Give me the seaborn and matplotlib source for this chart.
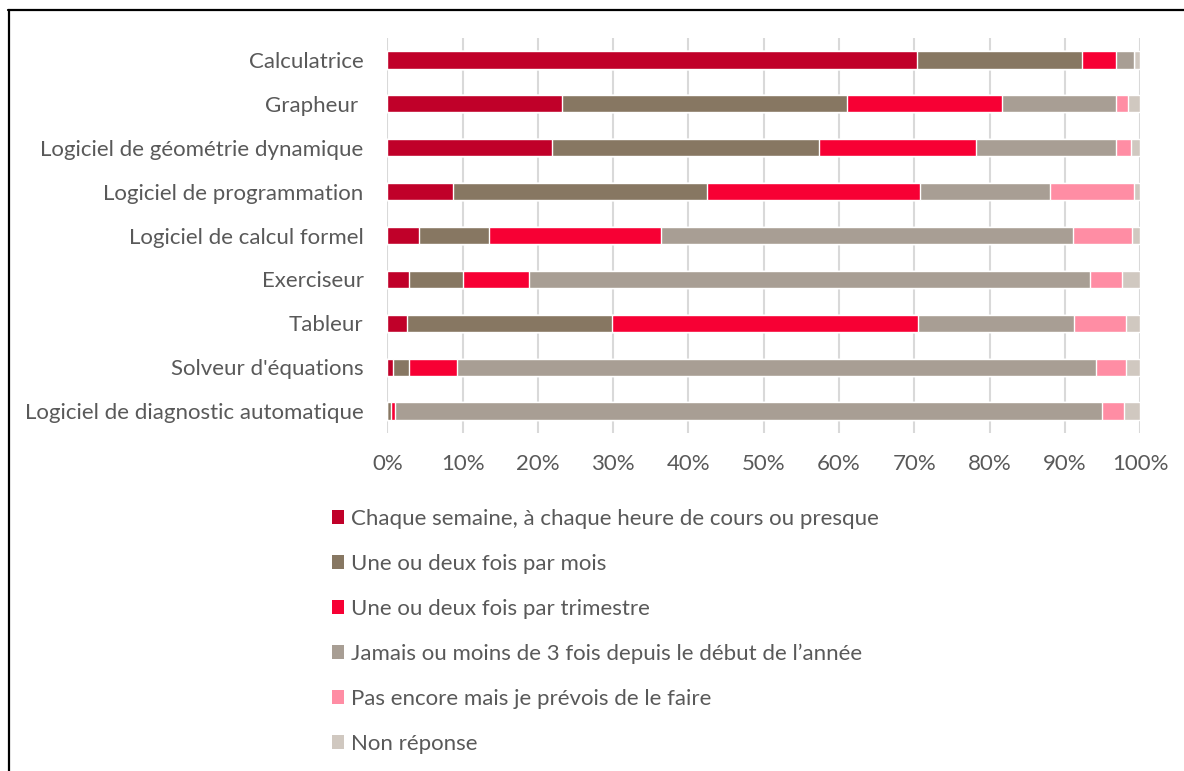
import pandas as pd
import matplotlib.pyplot as plt
import seaborn as sns
from matplotlib.patches import Patch
from matplotlib.lines import Line2D
from matplotlib.ticker import PercentFormatter

# outils (de haut en bas)
outils = [
    "Calculatrice",
    "Grapheur ",
    "Logiciel de géométrie dynamique",
    "Logiciel de programmation",
    "Logiciel de calcul formel",
    "Exerciseur",
    "Tableur",
    "Solveur d'équations",
    "Logiciel de diagnostic automatique",
]

frequences = [
    "Chaque semaine, à chaque heure de cours ou presque",
    "Une ou deux fois par mois",
    "Une ou deux fois par trimestre",
    "Jamais ou moins de 3 fois depuis le début de l’année",
    "Pas encore mais je prévois de le faire",
    "Non réponse",
]

# parts en %
chaque_semaine = [70.3, 23.2, 21.9, 8.7, 4.2, 2.9, 2.6, 0.8, 0.0]
par_mois = [22.0, 37.8, 35.4, 33.7, 9.3, 7.1, 27.3, 2.1, 0.5]
par_trimestre = [4.5, 20.6, 20.9, 28.3, 22.8, 8.8, 40.6, 6.3, 0.5]
jamais = [2.4, 15.2, 18.6, 17.3, 54.7, 74.5, 20.7, 84.9, 93.9]
pas_encore = [0.0, 1.6, 1.9, 11.2, 7.9, 4.3, 6.9, 4.0, 2.9]
non_reponse = [0.8, 1.6, 1.3, 0.8, 1.1, 2.4, 1.9, 1.9, 2.2]

couleurs = ["#C00029", "#877762", "#F70034", "#A89E94", "#FF8DA4", "#D0C8C0"]

series = [chaque_semaine, par_mois, par_trimestre, jamais, pas_encore, non_reponse]
df = pd.DataFrame({f: v for f, v in zip(frequences, series)}, index=outils)
# normalise chaque ligne a 100 %
df = df.div(df.sum(axis=1), axis=0)
cumul = df.cumsum(axis=1)

sns.set_theme(style="white")
plt.rcParams["font.family"] = ["Lato", "DejaVu Sans"]
gris_texte = "#595959"
taille = 16

fig = plt.figure(figsize=(11.84, 7.71), dpi=100)
ax = fig.add_axes([0.3271, 0.4384, 0.636, 0.5123])

# barres empilees : on dessine les cumuls du plus grand au plus petit
for i in range(len(frequences) - 1, -1, -1):
    d = pd.DataFrame({"outil": outils, "val": cumul.iloc[:, i].values})
    sns.barplot(data=d, x="val", y="outil", orient="h", color=couleurs[i],
                width=0.39, saturation=1, ax=ax, zorder=3)

ax.set_xlim(0, 1)
ax.set_ylim(8.5, -0.5)
ax.set_xticks([i / 10 for i in range(11)])
ax.xaxis.set_major_formatter(PercentFormatter(1.0, decimals=0))
ax.grid(axis="x", color="#D9D9D9", linewidth=1.5, zorder=0)
ax.set_axisbelow(True)
for s in ax.spines.values():
    s.set_visible(False)
ax.set_xlabel("")
ax.set_ylabel("")
ax.tick_params(axis="x", length=0, pad=15, labelsize=taille, labelcolor=gris_texte)
ax.tick_params(axis="y", length=0, pad=17, labelsize=taille, labelcolor=gris_texte)

handles = [Patch(facecolor=c, edgecolor="none") for c in couleurs]
fig.legend(handles, frequences, loc="upper left", bbox_to_anchor=(0.2804, 0.3398),
           frameon=False, fontsize=taille, labelcolor=gris_texte, borderpad=0,
           borderaxespad=0, handlelength=0.55, handleheight=0.55,
           handletextpad=0.3, labelspacing=1.12)

# cadre (haut et gauche)
fig.add_artist(Line2D([8 / 1184, 1.0], [1 - 9.5 / 771, 1 - 9.5 / 771], color="black", linewidth=1.6))
fig.add_artist(Line2D([8.5 / 1184, 8.5 / 1184], [0, 1 - 9.5 / 771], color="black", linewidth=1.6))

fig.savefig("out.png", dpi=100)
